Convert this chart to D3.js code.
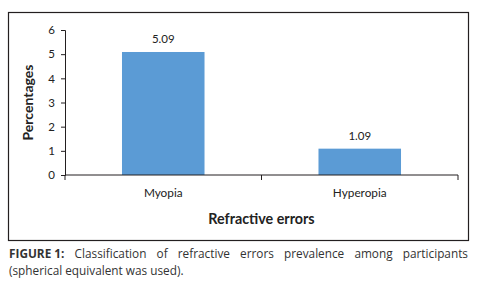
<!DOCTYPE html>
<html><head><meta charset="utf-8">
<script src="https://cdn.jsdelivr.net/npm/d3@7"></script>
<style>html,body{margin:0;padding:0;background:#fff;}</style>
</head><body>
<svg id="c" width="482" height="288"></svg>
<script>
const categories = ["Myopia", "Hyperopia"];
const values = [5.09, 1.09];
const valueLabels = ["5.09", "1.09"];
const yTicks = [0, 1, 2, 3, 4, 5, 6];
const yTitle = "Percentages";
const xTitle = "Refractive errors";
const captionBold = "FIGURE 1:";
const captionLine1 = "Classification of refractive errors prevalence among participants";
const captionLine2 = "(spherical equivalent was used).";

const font = "Lato, 'Open Sans', sans-serif";
const svg = d3.select("#c");
svg.append("rect").attr("x", 8.5).attr("y", 12.5).attr("width", 460).attr("height", 228)
  .attr("fill", "none").attr("stroke", "#231f20").attr("stroke-width", 1.2);

const x0 = 65, x1 = 458, yTop = 30, yBot = 175;
const x = d3.scaleBand().domain(categories).range([x0, x1]).paddingInner(0.58).paddingOuter(0.29);
const y = d3.scaleLinear().domain([0, 6]).range([yBot, yTop]);

// bars
svg.selectAll("rect.bar").data(values).enter().append("rect")
  .attr("class", "bar")
  .attr("x", (d, i) => x(categories[i]))
  .attr("width", x.bandwidth())
  .attr("y", d => y(d))
  .attr("height", d => y(0) - y(d))
  .attr("fill", "#5b9bd5");

svg.selectAll("text.vl").data(values).enter().append("text")
  .attr("x", (d, i) => x(categories[i]) + x.bandwidth() / 2)
  .attr("y", d => y(d) - 9)
  .attr("text-anchor", "middle").attr("font-family", font).attr("font-size", 11.5)
  .attr("fill", "#222").text((d, i) => valueLabels[i]);

// y axis
const ya = svg.append("g").attr("transform", `translate(${x0},0)`)
  .call(d3.axisLeft(y).tickValues(yTicks).tickFormat(d3.format("d")).tickSize(4).tickPadding(6));
ya.select(".domain").attr("stroke", "#231f20");
ya.selectAll("line").attr("stroke", "#231f20");
ya.selectAll("text").attr("font-family", font).attr("font-size", 11.5).attr("fill", "#222");

// x axis with ticks at band boundaries
const xa = svg.append("g").attr("transform", `translate(0,${yBot})`);
xa.append("line").attr("x1", x0).attr("x2", x1).attr("stroke", "#231f20");
const step = (x1 - x0) / categories.length;
d3.range(categories.length + 1).forEach(i => {
  xa.append("line").attr("x1", x0 + i * step).attr("x2", x0 + i * step)
    .attr("y1", 0).attr("y2", 5).attr("stroke", "#231f20");
});
svg.selectAll("text.cat").data(categories).enter().append("text")
  .attr("x", d => x(d) + x.bandwidth() / 2).attr("y", 197)
  .attr("text-anchor", "middle").attr("font-family", font).attr("font-size", 11.8)
  .attr("fill", "#222").text(d => d);

svg.append("text").attr("x", (x0 + x1) / 2).attr("y", 224).attr("text-anchor", "middle")
  .attr("font-family", font).attr("font-size", 14.3).attr("font-weight", "bold")
  .attr("fill", "#222").text(xTitle);

svg.append("text").attr("transform", `translate(32.5,${(yTop + yBot) / 2}) rotate(-90)`)
  .attr("text-anchor", "middle").attr("font-family", font).attr("font-size", 14)
  .attr("font-weight", "bold").attr("fill", "#222").text(yTitle);

// caption, justified first line
const cfont = "'Open Sans', Lato, sans-serif";
const cx0 = 9, cx1 = 468;
const words = [{t: captionBold, b: true}].concat(captionLine1.split(" ").map(t => ({t, b: false})));
const nodes = words.map(w => svg.append("text").attr("y", 257.5).attr("font-family", cfont)
  .attr("font-size", 11.8).attr("font-weight", w.b ? "bold" : "normal").attr("fill", "#333").text(w.t));
const widths = nodes.map(n => n.node().getComputedTextLength());
const total = d3.sum(widths);
const gap = (cx1 - cx0 - total) / (nodes.length - 1);
let cx = cx0;
nodes.forEach((n, i) => { n.attr("x", cx); cx += widths[i] + gap; });
svg.append("text").attr("x", cx0).attr("y", 274.5).attr("font-family", cfont).attr("font-size", 11.8)
  .attr("fill", "#333").text(captionLine2);
</script>
</body></html>
